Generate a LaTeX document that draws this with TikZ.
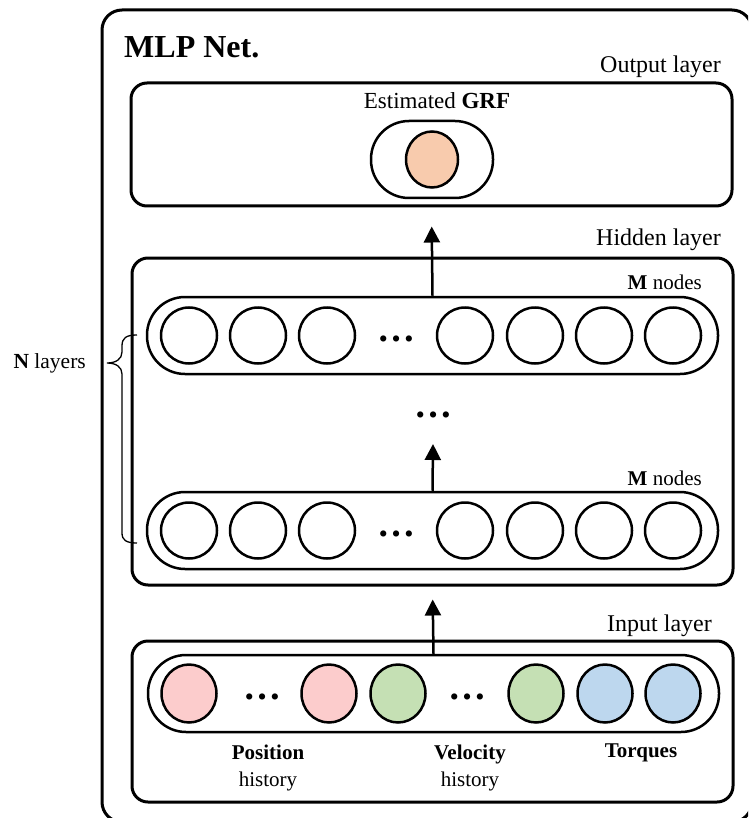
\documentclass[tikz,border=0pt]{standalone}
\usepackage{fontspec}
\setmainfont{Liberation Serif}
\usetikzlibrary{arrows.meta,positioning,shapes.geometric}

\tikzset{
  frame/.style={draw, line width=3pt, rounded corners=16pt, inner sep=0pt},
  pill/.style={draw, line width=2.5pt, rounded corners=38pt, minimum height=77pt, inner sep=0pt},
  neuron/.style={draw, circle, line width=2.5pt, minimum size=56pt, inner sep=0pt},
  feat/.style={draw, ellipse, line width=2.5pt, minimum width=55pt, minimum height=58pt, inner sep=0pt},
  lbl/.style={font=\fontsize{24}{28}\selectfont, inner sep=0pt},
  small/.style={font=\fontsize{21}{25}\selectfont, inner sep=0pt},
  hdots/.style={font=\fontsize{38}{38}\selectfont\bfseries, inner sep=0pt, anchor=base},
  up/.style={-{Triangle[length=16pt,width=16pt]}, line width=2.5pt}
}

\begin{document}
\begin{tikzpicture}[x=1pt, y=-1pt]
  \useasboundingbox (0,0) rectangle (748,818);
  \begin{scope}
  \clip (0,0) rectangle (748,818);
  \node (net) [draw, line width=3pt, rounded corners=20pt, minimum width=650pt, minimum height=812pt] at (427,416) {};
  \end{scope}
  \node (title) [anchor=base west, inner sep=0pt, font=\fontsize{32}{36}\selectfont\bfseries] at (124,58) {MLP Net.};

  % output layer
  \node (outbox) [frame, minimum width=601pt, minimum height=123pt] at (431.5,144.5) {};
  \node (outlbl) [lbl, anchor=east] at (721,67) {Output layer};
  \node (grflbl) [small, font=\fontsize{23}{27}\selectfont] at (437,101) {Estimated \textbf{GRF}};
  \node (outrow) [pill, minimum width=122pt] at (432,159.5) {};
  \node (grf) [feat, fill={rgb,255:red,248;green,203;blue,173}, minimum width=52pt, minimum height=56pt] at (432,159.5) {};

  % hidden layer
  \node (hidbox) [frame, minimum width=601pt, minimum height=327pt] at (432.5,421.5) {};
  \node (hidlbl) [lbl, anchor=east] at (721,240) {Hidden layer};
  \node (hrow1) [pill, minimum width=571pt] at (432.5,335.5) {};
  \node (hrow2) [pill, minimum width=571pt] at (432.5,530.5) {};
  \node (mlbl1) [small, anchor=east] at (702,282) {\textbf{M} nodes};
  \node (mlbl2) [small, anchor=east] at (702,478) {\textbf{M} nodes};
  \foreach \x [count=\i] in {189,258,327,465,535,604,673} {
    \node (a\i) [neuron] at (\x,335.5) {};
    \node (b\i) [neuron] at (\x,530.5) {};
  }
  \node (adots) [hdots] at (396,341) {\ldots};
  \node (bdots) [hdots] at (396,536) {\ldots};
  \node (vdots) [hdots] at (433,417) {\ldots};

  % input layer
  \node (inbox) [frame, minimum width=601pt, minimum height=161pt] at (432.5,721.5) {};
  \node (inlbl) [lbl, anchor=east] at (712,626) {Input layer};
  \node (inrow) [pill, minimum width=571pt] at (433.5,693.5) {};
  \node (p1) [feat, fill={rgb,255:red,252;green,204;blue,204}] at (189,693.5) {};
  \node (p2) [feat, fill={rgb,255:red,252;green,204;blue,204}] at (329,693.5) {};
  \node (v1) [feat, fill={rgb,255:red,197;green,224;blue,180}] at (398,693.5) {};
  \node (v2) [feat, fill={rgb,255:red,197;green,224;blue,180}] at (536,693.5) {};
  \node (t1) [feat, fill={rgb,255:red,189;green,215;blue,238}] at (605,693.5) {};
  \node (t2) [feat, fill={rgb,255:red,189;green,215;blue,238}] at (673,693.5) {};
  \node (pdots) [hdots] at (262,699) {\ldots};
  \node (vdots2) [hdots] at (467,699) {\ldots};
  \node (poslbl) [lbl, align=center, font=\fontsize{21}{27}\selectfont] at (268,768) {\textbf{Position}\\history};
  \node (vellbl) [lbl, align=center, font=\fontsize{21}{27}\selectfont] at (470,768) {\textbf{Velocity}\\history};
  \node (torlbl) [lbl, font=\fontsize{21}{27}\selectfont\bfseries] at (641,753) {Torques};

  % N layers brace
  \node (nlbl) [lbl, font=\fontsize{21.5}{25}\selectfont, anchor=east] at (86,363) {\textbf{N} layers};
  \coordinate (bt) at (137,335);
  \coordinate (bb) at (137,543);
  \draw[line width=1.3pt] (bt) .. controls (126,335) and (122,338) .. (122,346)
    -- (122,352) .. controls (122,359) and (116,363) .. (107,363)
    .. controls (116,363) and (122,367) .. (122,374)
    -- (122,533) .. controls (122,540) and (126,543) .. (bb);

  \coordinate (tip2) at (433,444);
  \path[up]
    (hrow1.north) edge[shorten >=19pt] (outbox.south)
    (hrow2.north) edge (tip2)
    (inrow.north) edge[shorten >=13pt] (hidbox.south);
\end{tikzpicture}
\end{document}
